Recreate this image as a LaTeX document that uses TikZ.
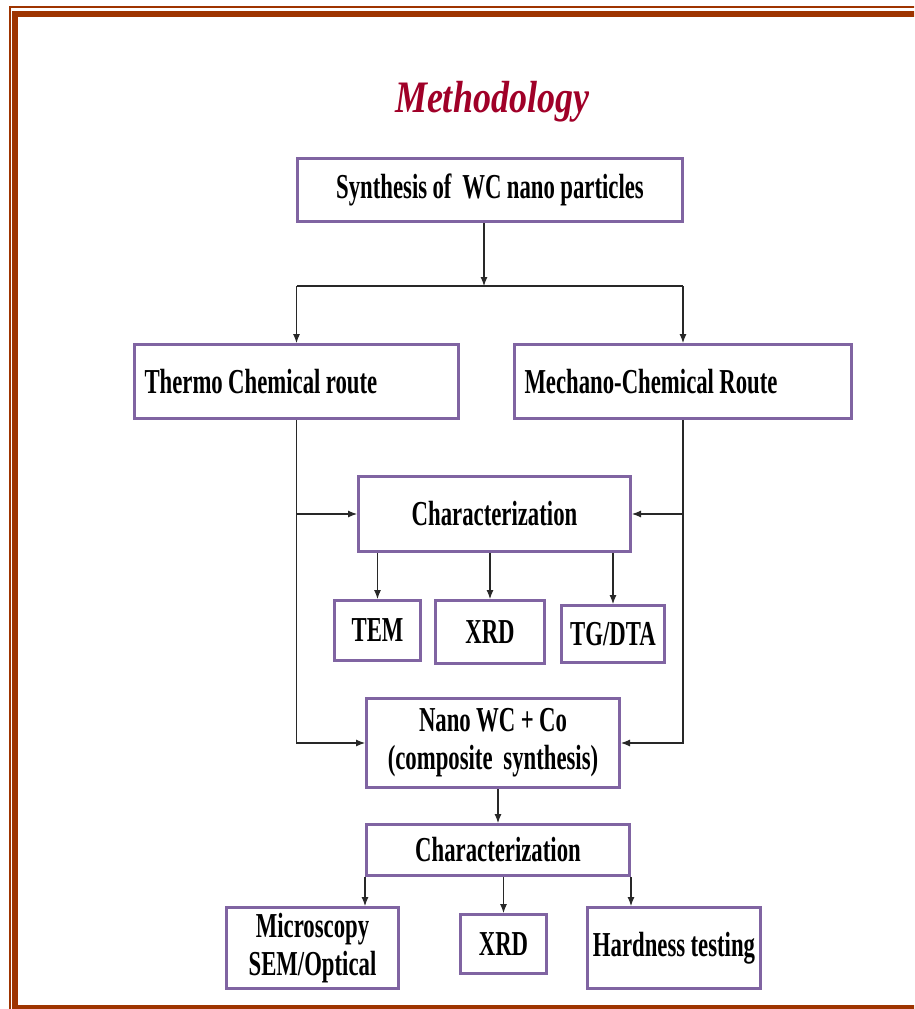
\documentclass[tikz,border=0pt]{standalone}
\usepackage{fontspec}
\setmainfont{Liberation Serif}
\newfontfamily\boxfont[FakeStretch=0.65,WordSpace={0.95,0,0}]{Liberation Serif}
\newfontfamily\titlefont[FakeStretch=0.8,WordSpace=0.8]{Liberation Serif}
\usetikzlibrary{arrows.meta}
\definecolor{framecol}{RGB}{158,52,0}
\definecolor{boxline}{RGB}{128,100,162}
\definecolor{titlered}{RGB}{160,0,40}
\definecolor{conn}{RGB}{40,40,40}
\tikzset{
  box/.style={draw=boxline, line width=3pt, fill=white, inner sep=0pt, align=center,
    font=\boxfont\bfseries\fontsize{35}{38}\selectfont},
  ln/.style={draw=conn, line width=1.1pt},
  arr/.style={draw=conn, line width=1.1pt, -{Latex[length=9pt,width=7pt]}},
}
\begin{document}
\begin{tikzpicture}[x=1pt,y=-1pt]
\useasboundingbox (0,0) rectangle (914,1009);
\begin{scope}
\clip (0,0) rectangle (914,1009);
\draw[framecol, line width=2pt] (10,7) rectangle (960,1020);
\draw[framecol, line width=6pt] (15,14) rectangle (950,1008);
\end{scope}

\node[anchor=base, text=titlered, font=\titlefont\bfseries\itshape\fontsize{45}{50}\selectfont] (title) at (492,112) {Methodology};

\node[box, minimum width=385pt, minimum height=63pt] (b1) at (490,190) {Synthesis of\ \ WC nano particles};
\node[box, minimum height=74pt, text width=304pt, inner xsep=10pt, align=flush left] (thermo) at (296.5,381.5) {Thermo Chemical route};
\node[box, minimum height=74pt, text width=317pt, inner xsep=10pt, align=flush left] (mech) at (683,381.5) {Mechano-Chemical Route};
\node[box, minimum width=272pt, minimum height=75pt] (c1) at (494.5,514) {Characterization};
\node[box, minimum width=86pt, minimum height=60pt] (tem) at (377.5,630.5) {TEM};
\node[box, minimum width=109pt, minimum height=63pt] (x1) at (490,632) {XRD};
\node[box, minimum width=103pt, minimum height=57pt] (tg) at (613,634) {TG/DTA};
\node[box, minimum width=253pt, minimum height=89pt] (nano) at (493,743) {Nano WC + Co\\(composite\ \ synthesis)};
\node[box, minimum width=263pt, minimum height=51pt] (c2) at (498,850) {Characterization};
\node[box, minimum width=172pt, minimum height=81pt] (mic) at (312.5,948) {Microscopy\\SEM/Optical};
\node[box, minimum width=86pt, minimum height=59pt] (x2) at (503.5,944) {XRD};
\node[box, minimum width=173pt, minimum height=81pt] (hard) at (674,948) {Hardness testing};

\coordinate (j) at (484,286);
\draw[arr] (b1.south -| j) -- (j);
\draw[ln] (thermo.north |- j) -- (mech.north |- j);
\draw[arr] (thermo.north |- j) -- (thermo.north);
\draw[arr] (mech.north |- j) -- (mech.north);

\draw[arr] (thermo.south) |- (nano.west);
\draw[arr] (mech.south) |- (nano.east);
\draw[arr] (thermo.south |- c1.west) -- (c1.west);
\draw[arr] (mech.south |- c1.east) -- (c1.east);

\draw[arr] (tem.north |- c1.south) -- (tem.north);
\draw[arr] (x1.north |- c1.south) -- (x1.north);
\draw[arr] (tg.north |- c1.south) -- (tg.north);

\draw[arr] (c2.north |- nano.south) -- (c2.north);

\draw[arr] (c2.south west) -- (c2.south west |- mic.north);
\draw[arr] (c2.south -| x2.north) -- (x2.north);
\draw[arr] (c2.south east) -- (c2.south east |- hard.north);
\end{tikzpicture}
\end{document}
